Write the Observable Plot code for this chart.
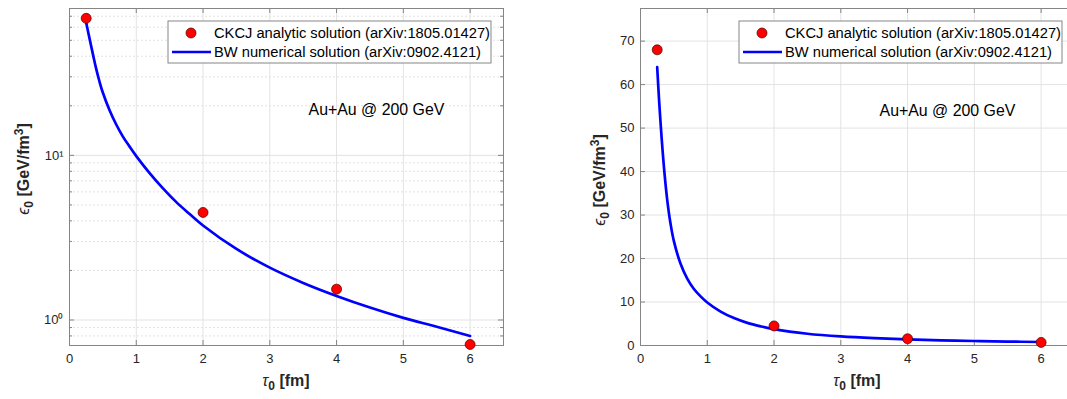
<!DOCTYPE html>
<html>
<head>
<meta charset="utf-8">
<script src="https://cdn.jsdelivr.net/npm/d3@7"></script>
<script src="https://cdn.jsdelivr.net/npm/@observablehq/plot@0.6"></script>
<style>
  body { margin: 0; background: #fff; }
  #wrap { position: relative; width: 1067px; height: 399px; overflow: hidden; background: #fff; }
  #wrap svg { position: absolute; top: 0; }
</style>
</head>
<body>
<div id="wrap"></div>
<script>
// ---- data ----
const pointTau = [0.25, 2, 4, 6];
const pointEps = [68, 4.5, 1.54, 0.71];

const curveTau = [0.25, 0.28, 0.32, 0.36, 0.4, 0.45, 0.5, 0.6, 0.7, 0.8, 0.9, 1.0, 1.2, 1.4, 1.6, 1.8, 2.0, 2.5, 3.0, 3.5, 4.0, 4.5, 5.0, 5.5, 6.0];
const curveEps = [64, 56, 47, 39.5, 33.5, 28, 24, 18.8, 15.4, 13, 11.3, 9.9, 7.8, 6.3, 5.2, 4.4, 3.75, 2.7, 2.08, 1.68, 1.4, 1.19, 1.03, 0.91, 0.8];

const xTicks = [0, 1, 2, 3, 4, 5, 6];
const logMajor = [1, 10];
const logMinor = [0.7, 0.8, 0.9, 2, 3, 4, 5, 6, 7, 8, 9, 20, 30, 40, 50, 60, 70];
const linTicks = [0, 10, 20, 30, 40, 50, 60, 70];

const legendLabels = ["CKCJ analytic solution (arXiv:1805.01427)", "BW numerical solution (arXiv:0902.4121)"];
const annotation = "Au+Au @ 200 GeV";
const xLabelName = "τ", xLabelSub = "0", xLabelUnit = " [fm]";
const yLabelName = "ϵ", yLabelSub = "0", yLabelUnit = " [GeV/fm", yLabelSup = "3", yLabelEnd = "]";

const points = pointTau.map((t, i) => ({tau: t, eps: pointEps[i]}));
const curve = curveTau.map((t, i) => ({tau: t, eps: curveEps[i]}));

// ---- style ----
const FONT = "'Liberation Sans', Arial, sans-serif";
const TXT = "#262626";
const BOX = "#858585";
const GRID = "#e3e3e3";
const W = 540, H = 399, MT = 8, MB = 54;
const PH = H - MT - MB;
const PW = 434;

const sup = {"0": "⁰", "1": "¹"};

function panel(opts) {
  const {log, marginLeft, marginRight, left} = opts;
  const yTicks = log ? logMajor : linTicks;
  const marks = [
    Plot.gridX(xTicks, {stroke: GRID, strokeOpacity: 1}),
    log ? Plot.gridY(logMinor, {stroke: GRID, strokeOpacity: 1, strokeDasharray: "2,2"}) : null,
    Plot.gridY(yTicks, {stroke: GRID, strokeOpacity: 1}),
    Plot.ruleX(xTicks, {insetTop: PH - 5, stroke: BOX}),
    Plot.ruleX(xTicks, {insetBottom: PH - 5, stroke: BOX}),
    Plot.ruleY(yTicks, {insetRight: PW - 5, stroke: BOX}),
    Plot.ruleY(yTicks, {insetLeft: PW - 5, stroke: BOX}),
    log ? Plot.ruleY(logMinor, {insetRight: PW - 3, stroke: BOX}) : null,
    log ? Plot.ruleY(logMinor, {insetLeft: PW - 3, stroke: BOX}) : null,
    Plot.frame({stroke: BOX, strokeWidth: 1}),
    Plot.axisX(xTicks, {tickSize: 0, tickPadding: 8, fontSize: 13, fill: TXT, label: null, tickFormat: d => String(d)}),
    Plot.axisY(yTicks, {tickSize: 0, tickPadding: 6, fontSize: 13, fill: TXT, label: null,
      tickFormat: log ? (d => "10" + sup[String(Math.round(Math.log10(d)))]) : (d => String(d))}),
    Plot.line(curve, {x: "tau", y: "eps", stroke: "#0000ff", strokeWidth: 2.7, curve: "catmull-rom"}),
    Plot.dot(points, {x: "tau", y: "eps", r: 5, fill: "#ff0000", stroke: "#4a0000", strokeWidth: 0.7}),
    Plot.text([annotation], {x: 3.58, y: log ? 18.8 : 54, text: d => d, textAnchor: "start", fontSize: 15.9, fill: "#000"})
  ].filter(Boolean);

  const svg = Plot.plot({
    width: W, height: H,
    marginLeft, marginRight, marginTop: MT, marginBottom: MB,
    style: {fontFamily: FONT, background: "transparent", overflow: "visible"},
    x: {domain: [0, 6.5], label: null, axis: null},
    y: log ? {type: "log", domain: [0.7, 78], label: null, axis: null}
           : {domain: [0, 77.5], label: null, axis: null},
    marks
  });
  svg.style.left = left + "px";
  const s = d3.select(svg);
  const x0 = marginLeft, x1 = marginLeft + PW;
  const cx = (x0 + x1) / 2;

  // x label
  const xl = s.append("text").attr("x", cx).attr("y", 386).attr("text-anchor", "middle")
    .attr("font-family", FONT).attr("font-size", 16).attr("font-weight", "bold").attr("fill", TXT);
  xl.append("tspan").attr("font-weight", "normal").attr("font-style", "italic").text(xLabelName);
  xl.append("tspan").attr("dy", 4).attr("font-size", 12).text(xLabelSub);
  xl.append("tspan").attr("dy", -4).text(xLabelUnit);

  // y label
  const ly = opts.yLabelY, lx = opts.yLabelX;
  const yl = s.append("text").attr("transform", `translate(${lx},${ly}) rotate(-90)`).attr("text-anchor", "middle")
    .attr("font-family", FONT).attr("font-size", 16).attr("font-weight", "bold").attr("fill", TXT);
  yl.append("tspan").attr("font-weight", "normal").attr("font-style", "italic").text(yLabelName);
  yl.append("tspan").attr("dy", 4).attr("font-size", 12).text(yLabelSub);
  yl.append("tspan").attr("dy", -4).text(yLabelUnit);
  yl.append("tspan").attr("dy", -6).attr("font-size", 12).text(yLabelSup);
  yl.append("tspan").attr("dy", 6).text(yLabelEnd);

  // legend
  const lgx = opts.legendX, lgy = 21, lgw = 323, lgh = 42;
  const g = s.append("g").attr("transform", `translate(${lgx},${lgy})`);
  g.append("rect").attr("width", lgw).attr("height", lgh).attr("fill", "#fff").attr("stroke", BOX).attr("stroke-width", 1);
  g.append("circle").attr("cx", 23).attr("cy", 12).attr("r", 5).attr("fill", "#ff0000").attr("stroke", "#4a0000").attr("stroke-width", 0.7);
  g.append("line").attr("x1", 4).attr("x2", 43).attr("y1", 31).attr("y2", 31).attr("stroke", "#0000ff").attr("stroke-width", 2.7);
  legendLabels.forEach((t, i) => {
    g.append("text").attr("x", 46).attr("y", 12 + i * 19).attr("dy", "0.36em").attr("text-anchor", "start")
      .attr("font-family", FONT).attr("font-size", 14.7).attr("fill", "#000").text(t);
  });
  document.getElementById("wrap").appendChild(svg);
}

panel({log: true, marginLeft: 69, marginRight: W - 69 - PW, left: 0, yLabelX: 29, yLabelY: 169, legendX: 168});
panel({log: false, marginLeft: 100, marginRight: W - 100 - PW, left: 540, yLabelX: 605 - 540, yLabelY: 180, legendX: 739 - 540});
</script>
</body>
</html>
